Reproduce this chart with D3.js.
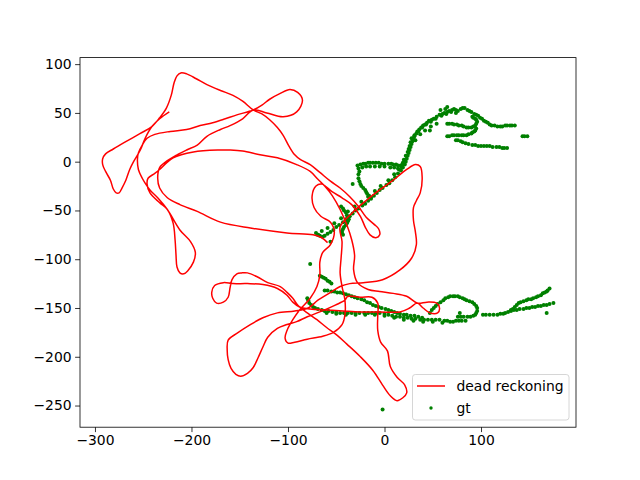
<!DOCTYPE html>
<html><head><meta charset="utf-8">
<script src="https://cdn.jsdelivr.net/npm/d3@7/dist/d3.min.js"></script>
<style>body{margin:0;background:#fff}svg{display:block}text{font-family:"DejaVu Sans",sans-serif}</style>
</head><body><svg id="c" width="640" height="480"></svg>
<script>
const xLim = [-315.5, 198.4];
const yLim = [-272.2, 106.7];
const xTicks = [-300, -200, -100, 0, 100];
const yTicks = [100, 50, 0, -50, -100, -150, -200, -250];
const seriesNames = ["dead reckoning", "gt"];

const deadReckoning = [
[-223,51],[-233,44],[-241,36],[-248,24],[-253,12],[-260,0],[-264,-8],[-268,-19],[-272,-27],[-275,-32],[-278,-32],[-281,-28],[-284,-19],[-289,-10],[-292,-3],[-292,3],[-289,8],[-281,13],[-269,20],[-253,29],[-241,36],[-233,45],[-226,55],[-221,68],[-218,81],[-215,88],[-211,91],[-205,90],[-195,85],[-184,79],[-170,73],[-157,68],[-147,62],[-136,53],
[-127,49],[-119,43],[-111,35],[-105,27],[-99,16],[-93,7],[-87,2],[-77,-3],[-67,-11],[-56,-20],[-46,-27],[-36,-36],[-27,-46],[-19,-57],[-11,-64],[-6,-69],[-5,-75],[-9,-78],[-15,-75],[-20,-67],[-25,-56],[-34,-44],[-44,-37],[-54,-31],[-65,-23],[-71,-25],[-75,-35],[-73,-47],[-66,-56],[-56,-62],[-52,-72],[-56,-85],[-64,-93],[-67,-103],[-67,-116],[-70,-128],[-77,-140],[-88,-152],[-95,-162],[-101,-173],[-103,-181],[-100,-186],[-93,-185],[-80,-182],[-64,-179],[-53,-175],[-44,-167],[-41,-157],[-41,-142],[-44,-128],[-46,-114],[-45,-99],[-44,-82],[-46,-67],
[-33,-52],[-18,-39],[-5,-29],[9,-19],[23,-8],[32,-3],[37,-5],[39,-16],[37,-32],[33,-40],[30,-47],[30,-60],[32,-72],[33,-85],[28,-99],[16,-111],[-2,-121],[-22,-124],[-36,-125],[-46,-128],[-56,-134],[-69,-142],[-79,-150],[-93,-153],[-111,-155],[-126,-160],[-139,-167],[-153,-176],[-162,-183],[-163,-193],[-162,-203],[-159,-212],[-154,-218],[-149,-220],[-142,-217],[-136,-211],[-131,-201],[-126,-190],[-121,-180],[-111,-171],[-101,-167],[-91,-164],[-80,-159],[-67,-154],[-51,-147],[-41,-142],[-38,-138],[-25,-139],[-13,-139],
[-7,-145],[-7,-157],[-7,-173],[-4,-185],[3,-194],[6,-210],[13,-221],[21,-229],[23,-237],[19,-242],[13,-245],[6,-240],[-2,-229],[-12,-214],[-25,-200],[-39,-187],[-49,-178],[-60,-170],[-70,-162],[-80,-155],[-90,-147],[-95,-140],[-101,-134],[-108,-128],[-121,-124],[-132,-118],[-142,-114],[-148,-114],[-153,-115],[-158,-121],[-160,-129],[-162,-139],[-167,-144],[-174,-145],[-178,-140],[-179,-134],[-176,-127],[-167,-124],[-157,-125],[-142,-125],[-126,-126],[-111,-130],[-101,-137],[-95,-144],[-88,-149],[-77,-151],[-60,-152],[-43,-153],[-25,-154],[-5,-154],[16,-154],[26,-150],[34,-145],[40,-150],[47,-155],[55,-155],[57,-150],[54,-145],[44,-144],[34,-145],[23,-138],[9,-135],[-5,-133],[-17,-131],[-28,-124],[-32,-111],[-31,-96],[-34,-80],[-39,-65],[-46,-49],[-54,-35],[-62,-25],[-69,-18],[-77,-10],[-91,-3],[-111,4],[-129,7],[-147,11],[-160,12],[-170,12],[-198,10],[-219,4],[-233,-8],[-238,-12],[-245,-17],[-246,-23],[-243,-32],[-233,-42],[-225,-49],[-219,-63],[-217,-80],[-216,-96],[-215,-108],[-212,-114],[-208,-115],[-204,-112],[-198,-103],[-196,-93],[-201,-82],[-212,-70],[-225,-49],[-235,-37],[-243,-29],[-248,-22],[-251,-17],[-255,-8],[-256,2],[-255,9],[-251,17],[-246,24],[-238,28],[-222,31],[-205,33],[-191,37],[-178,40],[-165,44],[-153,48],[-136,53],[-127,58],[-119,64],[-108,70],[-98,74],[-90,71],[-85,63],[-91,51],[-105,46],[-122,50],[-136,53],[-147,44],[-160,37],[-170,33],[-184,26],[-194,17],[-205,12],[-215,7],[-225,1],[-233,-6],[-235,-17],[-233,-27],[-225,-37],[-212,-44],[-194,-51],[-170,-62],[-139,-68],[-101,-73],[-74,-75],[-65,-78],[-59,-83]
];

const groundTruth = [
[-71,-73],[-67,-76],[-62,-76],[-56,-72],[-50,-67],[-43,-62],[-36,-56],[-30,-50],[-23,-45],[-17,-40],[-11,-35],[-5,-29],[2,-24],[8,-19],[14,-12],[19,-6],[22,0],[24,6],[26,12],[28,18],[30,24],[33,29],[36,33],[40,37],[44,40],[49,43],[54,46],[60,49],[65,51],[70,53],[74,53],
[-65,-71],[-59,-68],[-52,-63],[-45,-58],[-38,-51],[-31,-46],[-24,-41],[-17,-36],[-10,-30],[-4,-25],[4,-19],[10,-13],[15,-8],[19,-1],[22,6],[25,13],[27,20],[31,27],[35,31],[39,35],[43,38],[48,41],[53,44],[59,47],[64,49],[69,51],
[-69,-75],[-64,-77],[-59,-74],[-53,-70],[-47,-65],[-40,-59],[-33,-53],[-27,-48],[-20,-43],[-14,-38],[-8,-32],[-2,-27],[5,-22],[11,-16],[17,-9],[21,-3],[23,3],[25,9],[27,15],[29,21],[31,26],[34,31],[38,35],[42,38],[46,42],[51,44],[57,48],[62,50],[67,52],[72,54],[24,10],[26,16],[28,24],[20,2],[17,-4],
[32,22],[37,28],[42,32],[48,36],[54,39],[47,32],[58,53],[65,56],[63,54],
[-25,-3],[-20,-2],[-15,-1],[-9,-1],[-3,-2],[4,-2],[9,-3],[14,-4],[19,-3],[-23,-6],[-15,-5],[-5,-5],[6,-6],[14,-7],
[-22,-2],[-17,-1],[-12,-1],[-6,-1],[0,-2],[7,-2],[12,-3],[17,-4],[-19,-5],[-10,-5],[0,-5],[10,-6],[18,-6],
[-26,-10],[-27,-17],[-25,-23],[-22,-27],[-19,-31],[-16,-35],[-28,-4],[-33,-23],
[-27,-7],[-27,-13],[-26,-20],[-24,-25],[-20,-29],[-18,-33],[-14,-37],
[-45,-46],[-42,-50],[-39,-55],[-37,-59],[-39,-63],[-42,-67],[-44,-71],[-43,-75],[-69,-75],[-56,-82],
[-43,-48],[-40,-52],[-38,-57],[-38,-61],[-40,-65],[-43,-69],[-44,-73],
[-77,-105],[-67,-117],[-63,-119],[-59,-122],[-55,-125],[-65,-118],[-61,-120],[-57,-123],
[-80,-140],[-78,-145],[-74,-149],[-69,-151],[-62,-153],[-54,-154],[-46,-155],[-38,-155],[-30,-155],[-21,-155],[-13,-155],[-5,-155],[4,-157],[12,-159],[20,-160],[28,-161],[37,-162],[45,-162],[53,-162],[62,-163],[68,-164],[74,-163],[80,-163],
[-79,-142],[-76,-147],[-72,-150],[-65,-152],[-58,-153],[-50,-154],[-42,-155],[-34,-155],[-26,-155],[-17,-155],[-9,-155],[0,-156],[8,-158],[16,-159],[24,-160],[32,-161],[41,-162],[49,-162],[57,-162],[65,-163],[71,-164],[77,-163],[84,-163],
[-60,-155],[-50,-156],[-40,-157],[-30,-157],[-20,-157],[-10,-157],[0,-158],[10,-160],[20,-162],[30,-163],[40,-164],[50,-164],[60,-165],
[-62,-132],[-55,-133],[-49,-134],[-43,-135],[-37,-137],[-31,-139],[-24,-141],[-18,-144],[-12,-147],[-6,-149],[1,-151],[7,-153],[13,-155],[20,-157],[27,-158],[35,-159],
[-59,-132],[-52,-133],[-46,-134],[-40,-136],[-34,-138],[-28,-140],[-21,-142],[-15,-145],[-9,-148],[-3,-150],[4,-152],[10,-154],[16,-156],[23,-157],[31,-158],[39,-160],
[47,-155],[51,-150],[55,-146],[61,-142],[66,-139],[71,-138],[76,-138],[81,-140],[85,-142],[91,-144],[95,-148],[96,-153],[94,-157],[89,-159],[82,-159],[76,-159],[78,-155],
[49,-152],[53,-148],[58,-144],[63,-140],[68,-138],[73,-138],[78,-139],[83,-141],[88,-143],[93,-146],[96,-150],[95,-155],[92,-158],[86,-159],[79,-159],
[102,-157],[109,-157],[117,-157],[123,-156],[128,-154],[133,-151],[137,-147],[141,-144],[147,-142],[152,-141],[157,-139],[162,-137],[166,-134],[169,-132],
[105,-157],[113,-157],[120,-156],[125,-155],[131,-152],[135,-149],[139,-145],[144,-143],[149,-141],[154,-140],[159,-138],[164,-135],[168,-133],[171,-130],
[131,-153],[137,-152],[144,-151],[150,-150],[156,-149],[162,-148],[168,-147],[175,-145],[168,-155],
[134,-152],[140,-151],[147,-150],[153,-149],[159,-148],[165,-147],[171,-146],
[74,50],[79,54],[83,55],[88,52],[93,49],[97,47],[101,44],[105,41],[109,38],[114,37],[120,36],[125,37],[130,37],[135,37],[143,26],[148,26],
[76,52],[81,55],[86,53],[90,51],[95,48],[99,45],[103,42],[107,40],[111,37],[117,36],[122,36],[127,37],[132,37],[145,26],
[65,39],[70,39],[75,38],[80,37],[85,35],[90,35],[94,37],[96,41],[94,44],[91,46],
[67,39],[72,38],[77,37],[82,36],[87,35],[92,36],[95,39],[95,43],[92,45],
[65,26],[70,27],[75,27],[80,27],[85,27],[90,29],[93,31],[95,34],
[67,26],[72,27],[77,27],[82,27],[87,28],[91,30],[94,32],
[74,22],[79,21],[84,19],[91,17],[97,16],[103,16],[109,16],[116,15],[122,14],[127,14],
[76,22],[81,20],[87,18],[94,17],[100,16],[106,16],[112,15],[119,15],[124,14],
[-2,-254]
];

const W = 640, H = 480;
const L = 80, R = 576, T = 57.6, B = 427.2;
const svg = d3.select("#c");
const x = d3.scaleLinear().domain(xLim).range([L, R]);
const y = d3.scaleLinear().domain(yLim).range([B, T]);
const fmt = d => d < 0 ? "\u2212" + Math.abs(d) : String(d);

svg.append("clipPath").attr("id","clp").append("rect")
  .attr("x", L).attr("y", T).attr("width", R-L).attr("height", B-T);

const plot = svg.append("g").attr("clip-path","url(#clp)");
plot.append("g").selectAll("circle").data(groundTruth).join("circle")
  .attr("cx", d => x(d[0])).attr("cy", d => y(d[1])).attr("r", 2.0).attr("fill", "green");
plot.append("path").datum(deadReckoning)
  .attr("d", d3.line().x(d => x(d[0])).y(d => y(d[1])).curve(d3.curveCatmullRom.alpha(0.5)))
  .attr("fill","none").attr("stroke","red").attr("stroke-width",1.5).attr("stroke-linejoin","round");

const xa = svg.append("g").attr("transform", `translate(0,${B})`)
  .call(d3.axisBottom(x).tickValues(xTicks).tickFormat(fmt).tickSize(4.9).tickPadding(3.5));
const ya = svg.append("g").attr("transform", `translate(${L},0)`)
  .call(d3.axisLeft(y).tickValues(yTicks).tickFormat(fmt).tickSize(4.9).tickPadding(3.5));
[xa, ya].forEach(a => {
  a.select(".domain").remove();
  a.selectAll("line").attr("stroke","#000").attr("stroke-width",0.8);
  a.selectAll("text").attr("font-size","13.9px").attr("fill","#000").attr("font-family","DejaVu Sans");
});
svg.append("rect").attr("x", L).attr("y", T).attr("width", R-L).attr("height", B-T)
  .attr("fill","none").attr("stroke","#000").attr("stroke-width",0.8);

const lg = svg.append("g");
lg.append("rect").attr("x",412.5).attr("y",374.5).attr("width",156.5).attr("height",45.5)
  .attr("rx",2.8).attr("fill","#fff").attr("fill-opacity",0.8).attr("stroke","#cccccc").attr("stroke-width",0.8);
lg.append("line").attr("x1",417).attr("x2",445).attr("y1",386).attr("y2",386)
  .attr("stroke","red").attr("stroke-width",1.5);
lg.append("circle").attr("cx",431).attr("cy",408).attr("r",1.7).attr("fill","green");
lg.selectAll("text").data(seriesNames).join("text")
  .attr("x",456.5).attr("y",(d,i)=>386+i*22).attr("dy","0.35em")
  .attr("font-size","13.9px").attr("fill","#000").text(d=>d);
</script></body></html>
